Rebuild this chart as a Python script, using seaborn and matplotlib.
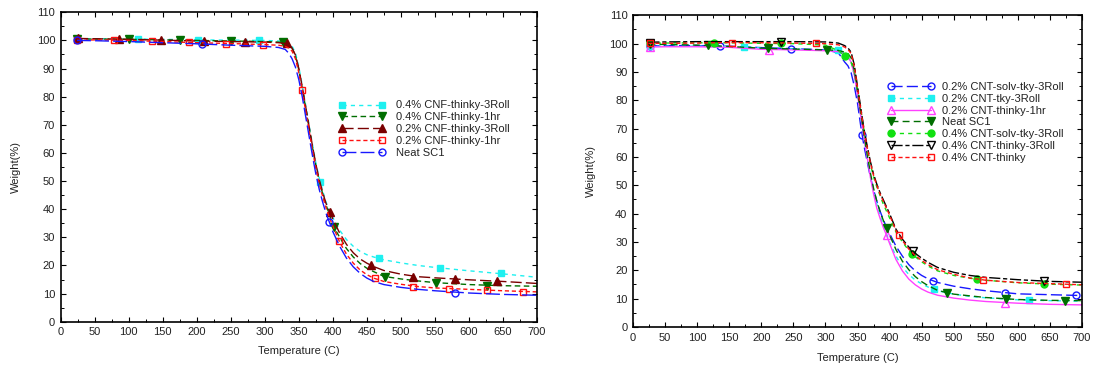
import matplotlib
matplotlib.use("Agg")
import matplotlib.pyplot as plt
from matplotlib.lines import Line2D
from matplotlib.ticker import MultipleLocator
import seaborn as sns

# ---------------- data: left panel (CNF) ----------------
T_left = [24, 50, 100, 150, 200, 250, 300, 320, 330, 335, 340, 345, 350, 355, 360, 365, 370,
          375, 380, 385, 390, 395, 400, 410, 420, 430, 440, 450, 460, 475, 500, 525, 550, 600, 650, 700]
W_cnf04_3roll = [100.6, 100.6, 100.5, 100.4, 100.2, 100.1, 100.0, 99.8, 99.5, 99.0, 98.0, 95.5, 90.5, 84, 77, 70, 63,
                 56.5, 51, 46.5, 42.5, 39.5, 37, 32.5, 29.2, 26.8, 25, 23.8, 23, 22, 20.9, 20, 19.3, 18.1, 17, 15.8]
W_cnf04_1hr = [100.5, 100.5, 100.4, 100.2, 100.0, 99.8, 99.6, 99.4, 99.1, 98.5, 97.3, 94.5, 89.5, 83, 76, 69, 62,
               55.5, 50, 45.5, 41.5, 38, 34.3, 30, 26, 23, 20.7, 19, 17.8, 16.1, 15.2, 14.5, 13.9, 13.2, 12.8, 12.6]
W_cnf02_3roll = [100.7, 100.6, 100.4, 100.1, 99.8, 99.6, 99.4, 99.2, 98.9, 98.4, 97.3, 94.8, 90, 83.5, 76.5, 69.5, 62.5,
                 56, 50.5, 46, 42, 39.3, 36.5, 31.5, 27.5, 24.5, 22.3, 20.8, 19.6, 18.2, 16.9, 16.0, 15.6, 14.9, 14.3, 13.6]
W_cnf02_1hr = [100.0, 100.2, 100.0, 99.6, 99.2, 98.9, 98.5, 98.3, 97.9, 97.3, 96.2, 93.5, 88.5, 82, 75, 68, 61,
               54.5, 49, 44.5, 40.5, 37, 34, 28.3, 24, 20.8, 18.4, 16.7, 15.5, 14.3, 13.3, 12.5, 12.0, 11.5, 11.0, 10.6]
W_neat_left = [100.0, 99.9, 99.6, 99.2, 98.8, 98.3, 97.9, 97.5, 96.8, 95.5, 93.5, 90.5, 86, 80, 73, 66, 59,
               52.5, 47, 42.5, 38.5, 35.3, 32, 26.8, 22.6, 19.5, 17.2, 15.5, 14.3, 13.2, 12.2, 11.5, 11.0, 10.2, 9.7, 9.4]

mT_cnf04_3roll = [24, 113, 202, 291, 381, 468, 558, 647]
mW_cnf04_3roll = [100.6, 100.5, 100.2, 100.0, 49.8, 22.5, 19.0, 17.2]
mT_cnf04_1hr = [24, 100, 175, 250, 326, 401, 476, 552, 626]
mW_cnf04_1hr = [100.5, 100.4, 100.1, 99.8, 99.4, 33.8, 16.0, 13.6, 12.8]
mT_cnf02_3roll = [25, 86, 148, 210, 271, 333, 396, 456, 518, 580, 641]
mW_cnf02_3roll = [100.7, 100.6, 100.2, 99.8, 99.6, 99.0, 39.0, 20.2, 16.0, 15.1, 14.5]
mT_cnf02_1hr = [24, 79, 134, 188, 243, 297, 354, 409, 462, 518, 571, 626, 680]
mW_cnf02_1hr = [100.0, 100.2, 99.9, 99.3, 98.9, 98.5, 82.5, 28.8, 15.4, 12.4, 11.6, 11.3, 10.7]
mT_neat_left = [24, 208, 394, 580]
mW_neat_left = [100.0, 98.7, 35.3, 10.3]

labels_left = ["0.4% CNF-thinky-3Roll", "0.4% CNF-thinky-1hr", "0.2% CNF-thinky-3Roll",
               "0.2% CNF-thinky-1hr", "Neat SC1"]

# ---------------- data: right panel (CNT) ----------------
T_right = T_left
W_cnt02_solv = [99.2, 99.3, 99.3, 99.1, 98.6, 98.2, 97.8, 96.8, 93.5, 92.2, 89.8, 85, 79, 71, 64, 58.5, 53,
                48.5, 44.5, 41, 38, 35.3, 33, 28.5, 25, 22, 19.8, 18.2, 17, 15.7, 14.4, 13.5, 12.8, 11.7, 11.4, 11.1]
W_cnt02_tky = [99.0, 99.1, 99.1, 99.0, 98.5, 98.1, 97.8, 97.5, 96.5, 95.5, 93.5, 89, 82, 74.5, 67, 60, 53.5,
               48, 43.5, 39.5, 36, 33, 30, 25, 21.2, 18.5, 16.6, 15.2, 14.1, 12.8, 11.6, 10.8, 10.3, 9.6, 9.3, 9.1]
W_cnt02_1hr = [98.8, 98.9, 98.9, 98.7, 98.0, 97.8, 97.5, 97.2, 96.3, 95.3, 93.5, 89, 82, 74.5, 67, 60, 53,
               47, 42, 38.5, 35.3, 32.5, 29.5, 23.8, 19.8, 16.9, 14.9, 13.4, 12.3, 11.2, 10.2, 9.5, 9.0, 8.4, 8.0, 7.8]
W_neat_right = [99.8, 99.7, 99.5, 99.0, 98.4, 98.1, 97.8, 97.6, 97.0, 96.5, 95.0, 90.5, 83, 75.5, 68, 61, 54.5,
                49, 44.5, 40.8, 37.8, 35, 32.5, 27.3, 23.2, 20.2, 17.8, 16.0, 14.6, 12.9, 11.6, 11.0, 10.4, 9.7, 9.4, 9.3]
W_cnt04_solv = [100.1, 100.2, 100.3, 100.3, 100.1, 100.0, 99.5, 97.5, 95.8, 95.0, 93.5, 90, 84, 77, 69.5, 63, 57.5,
                53, 49.5, 46.5, 43.5, 41, 38.5, 33.5, 30, 27, 24.8, 23, 21.5, 19.8, 18.2, 17.2, 16.5, 15.6, 15.1, 14.8]
W_cnt04_3roll = [100.5, 100.6, 100.7, 100.7, 100.7, 100.7, 100.6, 100.2, 99.3, 98.5, 97.0, 92.5, 85, 77.5, 70, 64, 58.5,
                 54, 50.5, 47.5, 45, 42.5, 40, 34.5, 31, 28.2, 26, 24.3, 22.8, 21, 19.3, 18.2, 17.5, 16.7, 16.1, 15.8]
W_cnt04_thinky = [100.1, 100.1, 100.2, 100.4, 100.3, 100.2, 100.0, 99.6, 98.8, 98.0, 96.5, 92, 84.5, 77, 69.5, 63.5, 58,
                  53.5, 50, 47, 44.5, 42, 39.5, 34, 30.5, 27.5, 25.2, 23.5, 22, 20.2, 18.6, 17.3, 16.5, 15.7, 15.3, 14.9]

mT_cnt02_solv = [26, 136, 247, 357, 468, 580, 691]
mW_cnt02_solv = [99.2, 99.3, 98.2, 67.9, 16.2, 11.9, 11.2]
mT_cnt02_tky = [26, 173, 320, 469, 618]
mW_cnt02_tky = [99.0, 98.9, 97.8, 13.3, 9.5]
mT_cnt02_1hr = [26, 212, 396, 580]
mW_cnt02_1hr = [98.8, 97.8, 32.4, 8.4]
mT_neat_right = [26, 117, 210, 303, 396, 489, 581, 674]
mW_neat_right = [99.8, 99.5, 98.3, 97.8, 34.8, 11.9, 9.8, 9.3]
mT_cnt04_solv = [26, 127, 230, 331, 435, 536, 640]
mW_cnt04_solv = [100.1, 100.4, 100.1, 95.6, 25.8, 16.8, 15.2]
mT_cnt04_3roll = [26, 230, 436, 640]
mW_cnt04_3roll = [100.1, 100.7, 26.9, 16.2]
mT_cnt04_thinky = [26, 155, 285, 415, 546, 675]
mW_cnt04_thinky = [100.1, 100.4, 100.1, 32.4, 16.6, 15.2]

labels_right = ["0.2% CNT-solv-tky-3Roll", "0.2% CNT-tky-3Roll", "0.2% CNT-thinky-1hr", "Neat SC1",
                "0.4% CNT-solv-tky-3Roll", "0.4% CNT-thinky-3Roll", "0.4% CNT-thinky"]

x_ticks = list(range(0, 701, 50))
y_ticks = list(range(0, 111, 10))

# ---------------- styling ----------------
sns.set_theme(style="ticks")
plt.rcParams["font.family"] = ["Liberation Sans", "DejaVu Sans"]
FS = 8

CYAN, DGREEN, DRED, RED, BLUE = "#1EF0F0", "#006E00", "#7A0000", "#FF1010", "#1818FF"
MAG, LIME, BLACK = "#FF40FF", "#10E010", "#000000"

left_series = [
    (W_cnf04_3roll, mT_cnf04_3roll, mW_cnf04_3roll, CYAN, (0, (3, 3)), "s", True),
    (W_cnf04_1hr, mT_cnf04_1hr, mW_cnf04_1hr, DGREEN, (0, (4, 2.5)), "v", True),
    (W_cnf02_3roll, mT_cnf02_3roll, mW_cnf02_3roll, DRED, (0, (8, 3)), "^", True),
    (W_cnf02_1hr, mT_cnf02_1hr, mW_cnf02_1hr, RED, (0, (3, 2)), "s", False),
    (W_neat_left, mT_neat_left, mW_neat_left, BLUE, (0, (10, 3)), "o", False),
]
right_series = [
    (W_cnt02_solv, mT_cnt02_solv, mW_cnt02_solv, BLUE, (0, (8, 3)), "o", False),
    (W_cnt02_tky, mT_cnt02_tky, mW_cnt02_tky, CYAN, (0, (3, 3)), "s", True),
    (W_cnt02_1hr, mT_cnt02_1hr, mW_cnt02_1hr, MAG, "-", "^", False),
    (W_neat_right, mT_neat_right, mW_neat_right, DGREEN, (0, (5, 3)), "v", True),
    (W_cnt04_solv, mT_cnt04_solv, mW_cnt04_solv, LIME, (0, (3, 3)), "o", True),
    (W_cnt04_3roll, mT_cnt04_3roll, mW_cnt04_3roll, BLACK, (0, (8, 2, 3, 2)), "v", False),
    (W_cnt04_thinky, mT_cnt04_thinky, mW_cnt04_thinky, RED, (0, (3, 2)), "s", False),
]

W_PX, H_PX = 1094, 367
fig = plt.figure(figsize=(W_PX / 100, H_PX / 100), dpi=100)


def px_axes(x0, x1, ytop, ybot):
    return fig.add_axes([x0 / W_PX, 1 - ybot / H_PX, (x1 - x0) / W_PX, (ybot - ytop) / H_PX])


def marker_kw(color, marker, filled):
    ms = 5.0 if marker in ("s", "o") else 6.0
    return dict(marker=marker, markersize=ms, markeredgecolor=color,
                markerfacecolor=color if filled else "none", markeredgewidth=1.0)


def draw_panel(ax, T, series, labels, leg_anchor, handletextpad):
    handles = []
    for (W, mT, mW, color, ls, marker, filled), lab in zip(series, labels):
        sns.lineplot(x=T, y=W, ax=ax, color=color, linestyle=ls, linewidth=1.0, sort=False)
        sns.lineplot(x=mT, y=mW, ax=ax, color=color, linestyle="none", sort=False,
                     **marker_kw(color, marker, filled))
        handles.append(Line2D([], [], color=color, linestyle=ls, linewidth=1.0,
                              **marker_kw(color, marker, filled)))
    ax.set_xlim(0, 700)
    ax.set_ylim(0, 110)
    ax.set_xticks(x_ticks)
    ax.set_yticks(y_ticks)
    ax.xaxis.set_minor_locator(MultipleLocator(25))
    ax.yaxis.set_minor_locator(MultipleLocator(5))
    ax.tick_params(which="both", direction="in", top=True, right=True, colors="black",
                   labelsize=FS, labelcolor="#222222")
    ax.tick_params(which="major", length=3.5, width=0.8, pad=4)
    ax.tick_params(which="minor", length=2.0, width=0.7)
    for sp in ax.spines.values():
        sp.set_linewidth(1.2)
        sp.set_color("black")
    ax.set_xlabel("Temperature (C)", fontsize=FS, color="#222222")
    ax.set_ylabel("Weight(%)", fontsize=FS, color="#222222")
    ax.grid(False)
    leg = ax.legend(handles=handles, labels=labels, loc="upper left",
                    bbox_to_anchor=(leg_anchor[0] / W_PX, 1 - leg_anchor[1] / H_PX),
                    bbox_transform=fig.transFigure, frameon=False, fontsize=FS,
                    numpoints=2, handlelength=4.2, handletextpad=handletextpad,
                    labelspacing=0.16, borderpad=0, borderaxespad=0)
    for t in leg.get_texts():
        t.set_color("#222222")


axL = px_axes(60.7, 537.0, 12.3, 321.7)
draw_panel(axL, T_left, left_series, labels_left, (338.4, 100.5), 0.95)
axL.xaxis.set_label_coords(0.5, -0.080)
axL.yaxis.set_label_coords(-0.083, 0.5)

axR = px_axes(633.0, 1082.0, 15.3, 327.0)
draw_panel(axR, T_right, right_series, labels_right, (887.4, 82.0), 0.7)
axR.xaxis.set_label_coords(0.5, -0.082)
axR.yaxis.set_label_coords(-0.082, 0.5)

fig.savefig("out.png", dpi=100)
